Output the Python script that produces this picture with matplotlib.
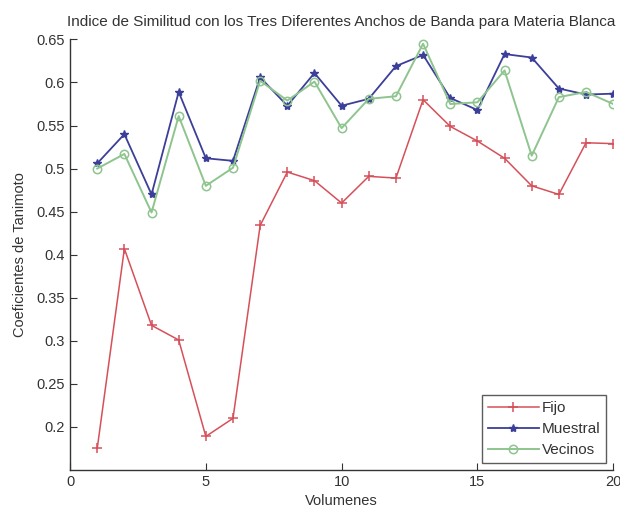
import numpy as np
import matplotlib
matplotlib.use('Agg')
import matplotlib.pyplot as plt

plt.rcParams['font.family'] = ['Liberation Sans', 'DejaVu Sans']

volumenes = np.arange(1, 21)
fijo = [0.175, 0.407, 0.318, 0.301, 0.189, 0.210, 0.434, 0.496, 0.486, 0.460,
        0.491, 0.489, 0.580, 0.549, 0.532, 0.512, 0.480, 0.470, 0.530, 0.529]
muestral = [0.506, 0.540, 0.470, 0.589, 0.512, 0.509, 0.606, 0.573, 0.611, 0.573,
            0.581, 0.619, 0.632, 0.582, 0.568, 0.633, 0.629, 0.593, 0.586, 0.587]
vecinos = [0.500, 0.517, 0.449, 0.561, 0.480, 0.501, 0.602, 0.579, 0.601, 0.547,
           0.581, 0.584, 0.645, 0.575, 0.577, 0.614, 0.515, 0.583, 0.589, 0.575]

fig = plt.figure(figsize=(6.2, 5.12), dpi=100)
ax = fig.add_axes([0.113, 0.082, 0.876, 0.841])

ax.plot(volumenes, fijo, color='#d6505a', marker='+', ms=7, mew=1.1, lw=1.1, label='Fijo')
ax.plot(volumenes, muestral, color='#3c3f99', marker='*', ms=6, lw=1.3, label='Muestral')
ax.plot(volumenes, vecinos, color='#8ec48e', marker='o', ms=6, mfc='none', mew=1.1,
        lw=1.4, label='Vecinos')

ax.set_xlim(0, 20)
ax.set_ylim(0.15, 0.65)
ax.set_xticks([0, 5, 10, 15, 20])
ax.set_yticks([0.2, 0.25, 0.3, 0.35, 0.4, 0.45, 0.5, 0.55, 0.6, 0.65])
ax.set_yticklabels(['0.2', '0.25', '0.3', '0.35', '0.4', '0.45', '0.5', '0.55', '0.6', '0.65'])
for side in ('top', 'right'):
    ax.spines[side].set_visible(False)
for side in ('left', 'bottom'):
    ax.spines[side].set_color('#333333')
    ax.spines[side].set_linewidth(1.0)
ax.tick_params(direction='in', length=5, labelsize=10.5, colors='#333333')

ax.set_title('Indice de Similitud con los Tres Diferentes Anchos de Banda para Materia Blanca',
             fontsize=11, color='#333333', pad=10)
ax.set_xlabel('Volumenes', fontsize=10.5, color='#333333', labelpad=4)
ax.set_ylabel('Coeficientes de Tanimoto', fontsize=10.5, color='#333333', labelpad=7)

leg = ax.legend(loc='lower right', fontsize=11, frameon=True, fancybox=False,
                edgecolor='#333333', borderaxespad=0.45, handlelength=3.3,
                handletextpad=0.2, labelspacing=0.45, borderpad=0.4)
leg.get_frame().set_linewidth(1.0)
for t in leg.get_texts():
    t.set_color('#333333')

fig.savefig('out.png', dpi=100)
